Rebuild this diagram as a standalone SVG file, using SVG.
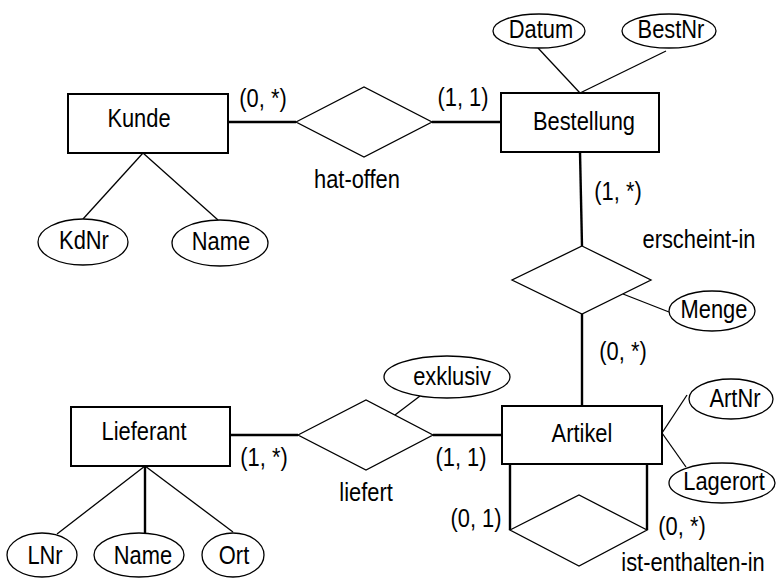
<svg xmlns="http://www.w3.org/2000/svg" width="776" height="578" viewBox="0 0 776 578">
  <style>
    text {
      font-family: "Liberation Sans", Arial, Helvetica, sans-serif;
      font-size: 25px;
      fill: #000;
      text-anchor: middle;
      transform-box: fill-box;
      transform-origin: center;
      transform: scaleX(0.875);
    }
    .entity { fill: #fff; stroke: #000; stroke-width: 2; }
    .rel { fill: #fff; stroke: #000; stroke-width: 1.3; }
    .attr { fill: #fff; stroke: #000; stroke-width: 1.3; }
    .link { stroke: #000; stroke-width: 2.4; fill: none; }
    .alink { stroke: #000; stroke-width: 1.3; fill: none; }
  </style>

  <!-- connectors -->
  <g id="connectors">
    <line class="link" x1="228" y1="122" x2="296" y2="122"/>
    <line class="link" x1="432" y1="122" x2="501" y2="122"/>
    <line class="link" x1="580" y1="152" x2="582" y2="246"/>
    <line class="link" x1="582" y1="314" x2="582" y2="406"/>
    <line class="link" x1="230" y1="435" x2="298" y2="435"/>
    <line class="link" x1="433" y1="435" x2="502" y2="435"/>
    <line class="link" x1="510" y1="464" x2="510" y2="530"/>
    <line class="link" x1="647" y1="464" x2="647" y2="530"/>
    <line class="alink" x1="143" y1="153" x2="83" y2="219"/>
    <line class="alink" x1="143" y1="153" x2="218" y2="220"/>
    <line class="alink" x1="538" y1="48" x2="580" y2="93"/>
    <line class="alink" x1="666" y1="51" x2="580" y2="93"/>
    <line class="alink" x1="623" y1="294" x2="669" y2="312"/>
    <line class="alink" x1="662" y1="433" x2="687" y2="395"/>
    <line class="alink" x1="662" y1="433" x2="686" y2="467"/>
    <line class="alink" x1="395" y1="415" x2="420" y2="396"/>
    <line class="alink" x1="145" y1="466" x2="57" y2="534"/>
    <line class="link" x1="145" y1="466" x2="145" y2="533"/>
    <line class="alink" x1="145" y1="466" x2="233" y2="532"/>
  </g>

  <!-- entities -->
  <g id="kunde">
    <rect class="entity" x="68" y="94" width="160" height="59"/>
    <text x="139" y="127">Kunde</text>
  </g>
  <g id="bestellung">
    <rect class="entity" x="501" y="93" width="158" height="59"/>
    <text x="584" y="130">Bestellung</text>
  </g>
  <g id="artikel">
    <rect class="entity" x="502" y="406" width="160" height="58"/>
    <text x="582" y="442">Artikel</text>
  </g>
  <g id="lieferant">
    <rect class="entity" x="71" y="407" width="159" height="59"/>
    <text x="144" y="440">Lieferant</text>
  </g>

  <!-- relationships -->
  <g id="hat-offen">
    <polygon class="rel" points="296,122 364,87 432,122 364,157"/>
    <text x="357" y="188">hat-offen</text>
  </g>
  <g id="erscheint-in">
    <polygon class="rel" points="582,246 651,280 582,314 512,280"/>
    <text x="699" y="248">erscheint-in</text>
  </g>
  <g id="liefert">
    <polygon class="rel" points="298,435 366,400 433,435 366,470"/>
    <text x="366" y="501">liefert</text>
  </g>
  <g id="ist-enthalten-in">
    <polygon class="rel" points="510,530 579,495 647,530 579,566"/>
    <text x="693" y="571">ist-enthalten-in</text>
  </g>

  <!-- attributes -->
  <g id="attr-kdnr">
    <ellipse class="attr" cx="83" cy="242" rx="45" ry="23"/>
    <text x="84" y="249">KdNr</text>
  </g>
  <g id="attr-kunde-name">
    <ellipse class="attr" cx="220" cy="243" rx="48" ry="23"/>
    <text x="221" y="250">Name</text>
  </g>
  <g id="attr-datum">
    <ellipse class="attr" cx="539" cy="31" rx="46" ry="17"/>
    <text x="541" y="38">Datum</text>
  </g>
  <g id="attr-bestnr">
    <ellipse class="attr" cx="669" cy="31" rx="47" ry="17"/>
    <text x="671" y="38">BestNr</text>
  </g>
  <g id="attr-menge">
    <ellipse class="attr" cx="712" cy="311" rx="43" ry="20"/>
    <text x="714" y="318">Menge</text>
  </g>
  <g id="attr-artnr">
    <ellipse class="attr" cx="731" cy="399" rx="42" ry="20"/>
    <text x="735" y="407">ArtNr</text>
  </g>
  <g id="attr-lagerort">
    <ellipse class="attr" cx="722" cy="483" rx="53" ry="20"/>
    <text x="724" y="490">Lagerort</text>
  </g>
  <g id="attr-exklusiv">
    <ellipse class="attr" cx="447" cy="377" rx="63" ry="21"/>
    <text x="452" y="385">exklusiv</text>
  </g>
  <g id="attr-lnr">
    <ellipse class="attr" cx="42" cy="555" rx="35" ry="22"/>
    <text x="45" y="564">LNr</text>
  </g>
  <g id="attr-lieferant-name">
    <ellipse class="attr" cx="139" cy="555" rx="45" ry="22"/>
    <text x="143" y="564">Name</text>
  </g>
  <g id="attr-ort">
    <ellipse class="attr" cx="233" cy="555" rx="31" ry="22"/>
    <text x="234" y="564">Ort</text>
  </g>

  <!-- cardinalities -->
  <g id="cardinalities">
    <text x="263" y="107">(0, *)</text>
    <text x="463" y="106">(1, 1)</text>
    <text x="618" y="200">(1, *)</text>
    <text x="623" y="360">(0, *)</text>
    <text x="264" y="466">(1, *)</text>
    <text x="461" y="466">(1, 1)</text>
    <text x="476" y="527">(0, 1)</text>
    <text x="682" y="535">(0, *)</text>
  </g>
</svg>
